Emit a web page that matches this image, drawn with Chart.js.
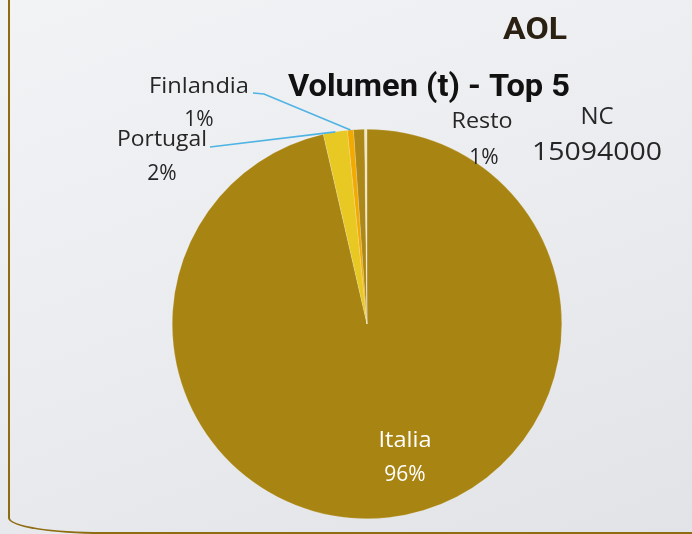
<!DOCTYPE html>
<html>
<head>
<meta charset="utf-8">
<script src="https://cdn.jsdelivr.net/npm/chart.js@4.4.1/dist/chart.umd.min.js"></script>
<style>
  html, body { margin: 0; padding: 0; }
  body {
    width: 692px; height: 534px; overflow: hidden; position: relative;
    background: linear-gradient(160deg, #f2f3f5 0%, #ebecef 50%, #e2e3e6 100%);
  }
  #frame {
    position: absolute; left: 8px; top: -20px; width: 900px; height: 552px;
    border-left: 2px solid #8d6c12; border-bottom: 2px solid #8d6c12;
    border-bottom-left-radius: 95px 16px;
  }
  canvas { position: absolute; left: 0; top: 0; }
</style>
</head>
<body>
<div id="frame"></div>
<canvas id="chart" width="692" height="534"></canvas>
<script>
  // datos (cuota del volumen, %)
  const paises = ['Italia', 'Portugal', 'Finlandia', 'Resto', 'NC'];
  const volumen = [96.4, 2.0, 0.5, 0.9, 0.2];
  const etiquetas = ['96%', '2%', '1%', '1%', '15094000'];
  const colores = ['#a88412', '#e8c823', '#f2a900', '#ab8818', '#efe6c4'];

  const titulo = 'Volumen (t) - Top 5';
  const supertitulo = 'AOL';

  function fitText(ctx, txt, x, y, font, width, align) {
    ctx.save();
    ctx.font = font;
    const w = ctx.measureText(txt).width;
    const s = width ? width / w : 1;
    ctx.translate(x, y);
    ctx.scale(s, 1);
    ctx.textAlign = align || 'center';
    ctx.fillText(txt, 0, 0);
    ctx.restore();
  }

  const etiquetasPlugin = {
    id: 'etiquetas',
    afterDraw(chart) {
      const ctx = chart.ctx;
      const arcs = chart.getDatasetMeta(0).data;
      ctx.save();
      ctx.textBaseline = 'alphabetic';

      // titulos
      ctx.fillStyle = '#2b2112';
      fitText(ctx, supertitulo, 535, 39, 'bold 32px Roboto', 64);
      ctx.fillStyle = '#111';
      fitText(ctx, titulo, 429, 96, 'bold 31px Roboto', 282);

      // lineas guia
      const edge = (a) => {
        const p = a.getProps(['x', 'y', 'startAngle', 'endAngle', 'outerRadius']);
        const m = (p.startAngle + p.endAngle) / 2;
        return [p.x + Math.cos(m) * p.outerRadius, p.y + Math.sin(m) * p.outerRadius];
      };
      ctx.strokeStyle = '#4fb3e3';
      ctx.lineWidth = 1.6;
      let e = edge(arcs[2]);
      ctx.beginPath();
      ctx.moveTo(253, 93); ctx.lineTo(264, 94); ctx.lineTo(e[0], e[1]);
      ctx.stroke();
      e = edge(arcs[1]);
      ctx.beginPath();
      ctx.moveTo(210, 147); ctx.lineTo(e[0], e[1]);
      ctx.stroke();

      // etiquetas externas
      ctx.fillStyle = '#262626';
      const f = '21px "Open Sans"';
      fitText(ctx, paises[2], 199, 93, f, 100);
      fitText(ctx, etiquetas[2], 199, 126, f);
      fitText(ctx, paises[1], 162, 146, f, 90);
      fitText(ctx, etiquetas[1], 162, 180, f);
      fitText(ctx, paises[3], 482, 128, f, 61);
      fitText(ctx, etiquetas[3], 484, 164, f);
      fitText(ctx, paises[4], 597, 124, '24px "Open Sans"');
      fitText(ctx, etiquetas[4], 597, 160, '26px "Open Sans"', 130);

      // etiqueta interna
      ctx.fillStyle = '#ffffff';
      fitText(ctx, paises[0], 405, 447, f, 53);
      fitText(ctx, etiquetas[0], 405, 481, f);
      ctx.restore();
    }
  };

  new Chart(document.getElementById('chart'), {
    type: 'pie',
    data: {
      labels: paises,
      datasets: [{
        data: volumen,
        backgroundColor: colores,
        borderColor: 'rgba(255,255,255,0.35)',
        borderWidth: 0.5
      }]
    },
    options: {
      responsive: false,
      animation: false,
      layout: { padding: { left: 172, right: 130, top: 129, bottom: 15 } },
      plugins: {
        legend: { display: false },
        tooltip: { enabled: false },
        title: { display: false }
      }
    },
    plugins: [etiquetasPlugin]
  });
</script>
</body>
</html>
